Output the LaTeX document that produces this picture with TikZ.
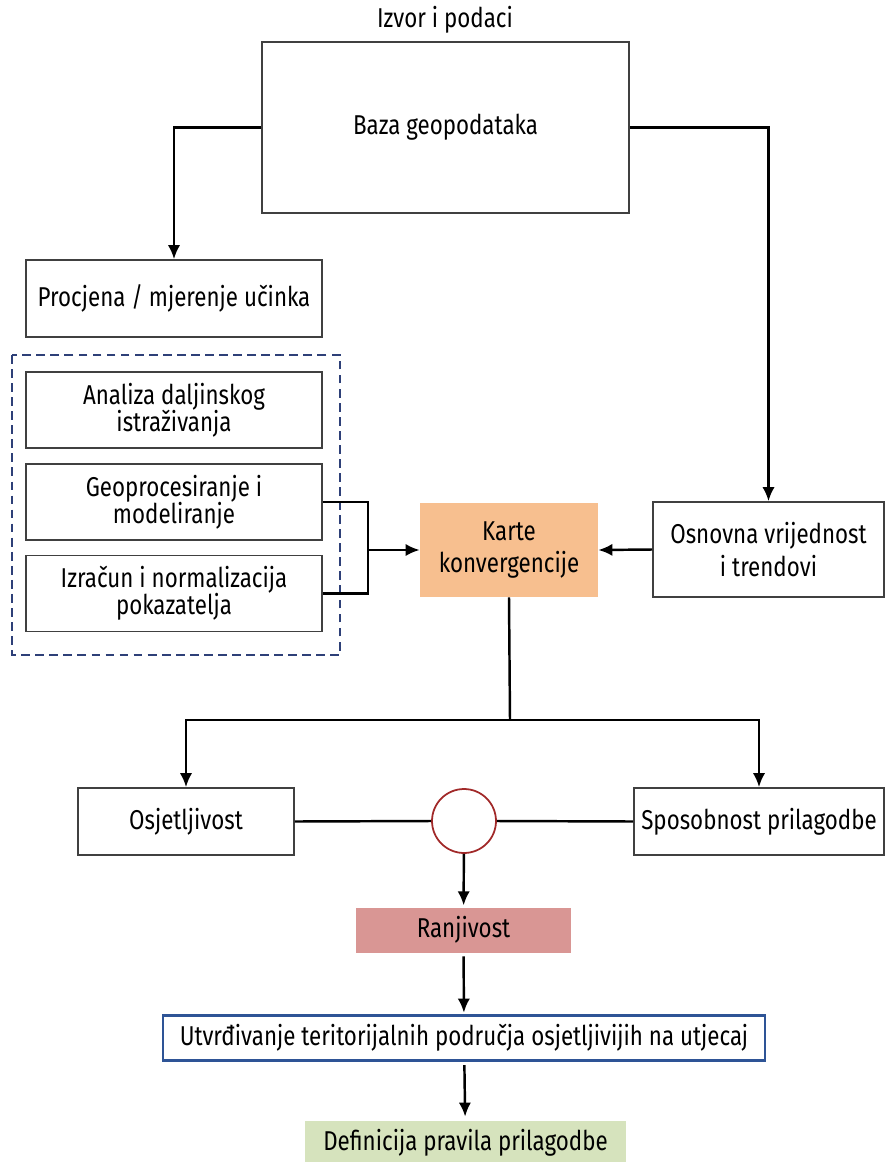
\documentclass[tikz,border=0pt]{standalone}
\usepackage{fontspec}
\setmainfont{Fira Sans}[FakeStretch=0.82]
\usepackage{tikz}
\usetikzlibrary{positioning, arrows.meta}
\definecolor{lineclr}{rgb}{0.25, 0.25, 0.25}
\definecolor{kartclr}{rgb}{0.97, 0.75, 0.56}
\definecolor{ranjclr}{rgb}{0.85, 0.59, 0.58}
\definecolor{defclr}{rgb}{0.84, 0.89, 0.74}
\definecolor{dashclr}{rgb}{0.18, 0.25, 0.47}
\definecolor{utvclr}{rgb}{0.18, 0.33, 0.59}
\definecolor{opclr}{rgb}{0.63, 0.16, 0.16}
\tikzset{ %
  ,>={Latex[length=8pt, width=7pt]}
  ,every node/.style={font=\fontsize{15.5}{15.5}\selectfont, align=center}
  ,wide/.style={font=\fontsize{15.5}{18.5}\selectfont}
  ,box/.style={draw=lineclr, line width=0.9pt, inner sep=2pt}
  ,fillbox/.style={draw=none, inner sep=2pt}
  ,op/.style={draw=opclr, line width=1pt, circle, inner sep=0, minimum size=1.28cm}
  ,conn/.style={line width=1.4pt}
}

\begin{document}
\begin{tikzpicture}[x=0.02cm, y=-0.02cm]
    \useasboundingbox (0,0) rectangle (885,1162);
    \node (izvor) at (445,20) {Izvor i podaci};
    \node[box, minimum width=7.34cm, minimum height=3.42cm] (baza) at (445.5,127.5) {Baza geopodataka};
    \node[box, minimum width=5.92cm, minimum height=1.54cm] (proc) at (174,298.5) {Procjena / mjerenje učinka};
    \draw[dashclr, line width=1.1pt, dash pattern=on 5pt off 3pt] (12,355) rectangle (340,655);
    \node[box, minimum width=5.92cm, minimum height=1.52cm] (ana) at (174,410) {Analiza daljinskog\\istraživanja};
    \node[box, minimum width=5.92cm, minimum height=1.52cm] (geo) at (174,502) {Geoprocesiranje i\\modeliranje};
    \node[box, minimum width=5.92cm, minimum height=1.52cm] (izr) at (174,593.5) {Izračun i normalizacija\\pokazatelja};
    \node[fillbox, wide, fill=kartclr, minimum width=3.56cm, minimum height=1.88cm] (karte) at (509,550) {Karte\\konvergencije};
    \node[box, wide, minimum width=4.62cm, minimum height=1.9cm] (osn) at (768.5,549.5) {Osnovna vrijednost\\i trendovi};
    \node[box, minimum width=4.32cm, minimum height=1.34cm] (osj) at (186,821.5) {Osjetljivost};
    \node[box, minimum width=5cm, minimum height=1.34cm] (spos) at (759,821.5) {Sposobnost prilagodbe};
    \node[op] (krug) at (464,821) {};
    \node[fillbox, fill=ranjclr, minimum width=4.3cm, minimum height=0.9cm] (ranj) at (463.5,930) {Ranjivost};
    \node[box, draw=utvclr, line width=1.2pt, minimum width=12.04cm, minimum height=0.9cm] (utv) at (464,1038) {Utvrđivanje teritorijalnih područja osjetljivijih na utjecaj};
    \node[fillbox, fill=defclr, minimum width=6.42cm, minimum height=0.9cm] (def) at (465.5,1143) {Definicija pravila prilagodbe};

    \coordinate (spoj) at (368,550);
    \coordinate (grana) at (510,720);
    \draw[conn, ->] (baza.west) -| (proc.north);
    \draw[conn, ->] (baza.east) -| (osn.north);
    \draw[conn] (geo.east) -| (spoj) |- (izr.east);
    \draw[conn, ->] (spoj) -- (karte.west);
    \draw[conn, ->] (osn.west) -- (karte.east);
    \draw[conn] (karte.south) -- (grana);
    \draw[conn, ->] (grana) -| (osj.north);
    \draw[conn, ->] (grana) -| (spos.north);
    \draw[conn] (osj.east) -- (krug.west) (krug.east) -- (spos.west);
    \draw[conn, ->, shorten >=1pt] (krug) -- (ranj);
    \draw[conn, ->, shorten <=2pt, shorten >=1pt] (ranj) -- (utv);
    \draw[conn, ->, shorten <=2pt, shorten >=2pt] (utv) -- (def);
  \end{tikzpicture}
\end{document}
